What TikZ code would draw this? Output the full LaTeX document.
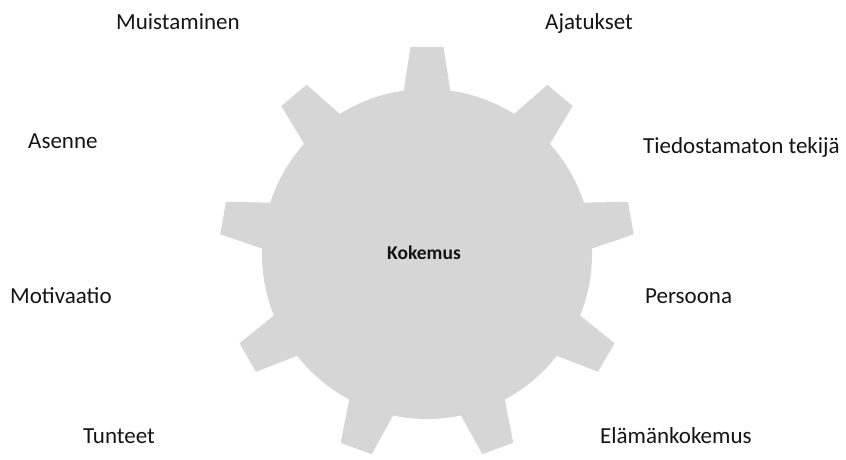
\documentclass[tikz,border=0pt]{standalone}
\usepackage{fontspec}
\setmainfont{Carlito}
\definecolor{gearfill}{RGB}{214,214,214}
\definecolor{txt}{RGB}{20,20,20}
\begin{document}
\begin{tikzpicture}[x=1pt,y=1pt,
  lbl/.style={font=\fontsize{23}{27}\selectfont, text=txt, anchor=base west, inner sep=0pt},
  center/.style={font=\fontsize{19.5}{23}\selectfont\bfseries, text=txt, anchor=base west, inner sep=0pt},
  gear/.style={fill=gearfill, draw=none}]
\useasboundingbox (0,0) rectangle (846,459);
\clip (0,0) rectangle (846,459);
\coordinate (c) at (427,205);
\fill[gear] (c) circle (165);
\foreach \a in {90,130,...,410}{
  \begin{scope}[shift={(c)}, rotate=\a]
    \fill[gear] (150,-25.4) -- (207,-16.5) -- (207,16.5) -- (150,25.4) -- cycle;
  \end{scope}
}
\node[center] (kokemus) at (387,200) {Kokemus};
\node[lbl] (muist) at (116,429) {Muistaminen};
\node[lbl] (ajat) at (545,429) {Ajatukset};
\node[lbl] (asenne) at (28,311) {Asenne};
\node[lbl] (tied) at (643,306) {Tiedostamaton tekijä};
\node[lbl] (motiv) at (10,156) {Motivaatio};
\node[lbl] (pers) at (645,156) {Persoona};
\node[lbl] (tunt) at (83,16) {Tunteet};
\node[lbl] (elam) at (600,16) {Elämänkokemus};
\end{tikzpicture}
\end{document}
